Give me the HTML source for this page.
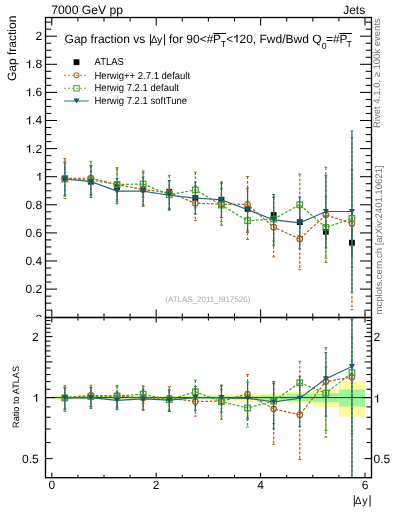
<!DOCTYPE html><html><head><meta charset="utf-8"><style>html,body{margin:0;padding:0;background:#fff;}svg{display:block;will-change:transform;}text{font-family:"Liberation Sans",sans-serif;text-rendering:geometricPrecision;}</style></head><body>
<svg width="393" height="512" viewBox="0 0 393 512">
<rect x="0" y="0" width="393" height="512" fill="#fff"/>
<defs><clipPath id="cu"><rect x="45.5" y="17.5" width="326.0" height="300.0"/></clipPath><clipPath id="cl"><rect x="45.5" y="317.5" width="326.0" height="160.2"/></clipPath><clipPath id="c0"><rect x="0" y="0" width="45" height="316.9"/></clipPath></defs>
<g clip-path="url(#cu)">
<line x1="64.85" y1="175.70" x2="64.85" y2="181.22" stroke="#000" stroke-width="1"/>
<rect x="61.95" y="175.56" width="5.8" height="5.8" fill="#000"/>
<line x1="90.95" y1="178.98" x2="90.95" y2="184.38" stroke="#000" stroke-width="1"/>
<rect x="88.05" y="178.78" width="5.8" height="5.8" fill="#000"/>
<line x1="117.05" y1="184.41" x2="117.05" y2="189.59" stroke="#000" stroke-width="1"/>
<rect x="114.15" y="184.10" width="5.8" height="5.8" fill="#000"/>
<line x1="143.15" y1="186.30" x2="143.15" y2="191.90" stroke="#000" stroke-width="1"/>
<rect x="140.25" y="186.20" width="5.8" height="5.8" fill="#000"/>
<line x1="169.25" y1="189.02" x2="169.25" y2="194.50" stroke="#000" stroke-width="1"/>
<rect x="166.35" y="188.86" width="5.8" height="5.8" fill="#000"/>
<line x1="195.35" y1="195.10" x2="195.35" y2="201.02" stroke="#000" stroke-width="1"/>
<rect x="192.45" y="195.16" width="5.8" height="5.8" fill="#000"/>
<line x1="221.45" y1="195.77" x2="221.45" y2="203.71" stroke="#000" stroke-width="1"/>
<rect x="218.55" y="196.84" width="5.8" height="5.8" fill="#000"/>
<line x1="247.55" y1="203.67" x2="247.55" y2="214.01" stroke="#000" stroke-width="1"/>
<rect x="244.65" y="205.94" width="5.8" height="5.8" fill="#000"/>
<line x1="273.65" y1="209.72" x2="273.65" y2="220.28" stroke="#000" stroke-width="1"/>
<rect x="270.75" y="212.10" width="5.8" height="5.8" fill="#000"/>
<line x1="299.75" y1="215.91" x2="299.75" y2="228.37" stroke="#000" stroke-width="1"/>
<rect x="296.85" y="219.24" width="5.8" height="5.8" fill="#000"/>
<line x1="325.85" y1="223.33" x2="325.85" y2="240.27" stroke="#000" stroke-width="1"/>
<rect x="322.95" y="228.90" width="5.8" height="5.8" fill="#000"/>
<line x1="351.95" y1="228.33" x2="351.95" y2="257.11" stroke="#000" stroke-width="1"/>
<rect x="349.05" y="239.82" width="5.8" height="5.8" fill="#000"/>
<line x1="64.85" y1="158.44" x2="64.85" y2="198.48" stroke="#ad5e18" stroke-width="1.2" stroke-dasharray="2.8,1.6"/>
<line x1="63.45" y1="158.44" x2="66.25" y2="158.44" stroke="#ad5e18" stroke-width="1"/>
<line x1="63.45" y1="198.48" x2="66.25" y2="198.48" stroke="#ad5e18" stroke-width="1"/>
<line x1="90.95" y1="161.38" x2="90.95" y2="194.98" stroke="#ad5e18" stroke-width="1.2" stroke-dasharray="2.8,1.6"/>
<line x1="89.55" y1="161.38" x2="92.35" y2="161.38" stroke="#ad5e18" stroke-width="1"/>
<line x1="89.55" y1="194.98" x2="92.35" y2="194.98" stroke="#ad5e18" stroke-width="1"/>
<line x1="117.05" y1="167.68" x2="117.05" y2="201.56" stroke="#ad5e18" stroke-width="1.2" stroke-dasharray="2.8,1.6"/>
<line x1="115.65" y1="167.68" x2="118.45" y2="167.68" stroke="#ad5e18" stroke-width="1"/>
<line x1="115.65" y1="201.56" x2="118.45" y2="201.56" stroke="#ad5e18" stroke-width="1"/>
<line x1="143.15" y1="172.72" x2="143.15" y2="206.32" stroke="#ad5e18" stroke-width="1.2" stroke-dasharray="2.8,1.6"/>
<line x1="141.75" y1="172.72" x2="144.55" y2="172.72" stroke="#ad5e18" stroke-width="1"/>
<line x1="141.75" y1="206.32" x2="144.55" y2="206.32" stroke="#ad5e18" stroke-width="1"/>
<line x1="169.25" y1="175.38" x2="169.25" y2="209.82" stroke="#ad5e18" stroke-width="1.2" stroke-dasharray="2.8,1.6"/>
<line x1="167.85" y1="175.38" x2="170.65" y2="175.38" stroke="#ad5e18" stroke-width="1"/>
<line x1="167.85" y1="209.82" x2="170.65" y2="209.82" stroke="#ad5e18" stroke-width="1"/>
<line x1="195.35" y1="185.88" x2="195.35" y2="220.60" stroke="#ad5e18" stroke-width="1.2" stroke-dasharray="2.8,1.6"/>
<line x1="193.95" y1="185.88" x2="196.75" y2="185.88" stroke="#ad5e18" stroke-width="1"/>
<line x1="193.95" y1="220.60" x2="196.75" y2="220.60" stroke="#ad5e18" stroke-width="1"/>
<line x1="221.45" y1="183.22" x2="221.45" y2="225.22" stroke="#ad5e18" stroke-width="1.2" stroke-dasharray="2.8,1.6"/>
<line x1="220.05" y1="183.22" x2="222.85" y2="183.22" stroke="#ad5e18" stroke-width="1"/>
<line x1="220.05" y1="225.22" x2="222.85" y2="225.22" stroke="#ad5e18" stroke-width="1"/>
<line x1="247.55" y1="176.50" x2="247.55" y2="232.50" stroke="#ad5e18" stroke-width="1.2" stroke-dasharray="2.8,1.6"/>
<line x1="246.15" y1="176.50" x2="248.95" y2="176.50" stroke="#ad5e18" stroke-width="1"/>
<line x1="246.15" y1="232.50" x2="248.95" y2="232.50" stroke="#ad5e18" stroke-width="1"/>
<line x1="273.65" y1="197.50" x2="273.65" y2="256.86" stroke="#ad5e18" stroke-width="1.2" stroke-dasharray="2.8,1.6"/>
<line x1="272.25" y1="197.50" x2="275.05" y2="197.50" stroke="#ad5e18" stroke-width="1"/>
<line x1="272.25" y1="256.86" x2="275.05" y2="256.86" stroke="#ad5e18" stroke-width="1"/>
<line x1="299.75" y1="208.14" x2="299.75" y2="269.74" stroke="#ad5e18" stroke-width="1.2" stroke-dasharray="2.8,1.6"/>
<line x1="298.35" y1="208.14" x2="301.15" y2="208.14" stroke="#ad5e18" stroke-width="1"/>
<line x1="298.35" y1="269.74" x2="301.15" y2="269.74" stroke="#ad5e18" stroke-width="1"/>
<line x1="325.85" y1="167.26" x2="325.85" y2="262.46" stroke="#ad5e18" stroke-width="1.2" stroke-dasharray="2.8,1.6"/>
<line x1="324.45" y1="167.26" x2="327.25" y2="167.26" stroke="#ad5e18" stroke-width="1"/>
<line x1="324.45" y1="262.46" x2="327.25" y2="262.46" stroke="#ad5e18" stroke-width="1"/>
<line x1="351.95" y1="137.44" x2="351.95" y2="309.64" stroke="#ad5e18" stroke-width="1.2" stroke-dasharray="2.8,1.6"/>
<line x1="350.55" y1="137.44" x2="353.35" y2="137.44" stroke="#ad5e18" stroke-width="1"/>
<line x1="350.55" y1="309.64" x2="353.35" y2="309.64" stroke="#ad5e18" stroke-width="1"/>
<path d="M64.85,178.46 L90.95,178.18 L117.05,184.62 L143.15,189.52 L169.25,192.60 L195.35,203.24 L221.45,204.22 L247.55,204.50 L273.65,227.18 L299.75,238.94 L325.85,214.86 L351.95,223.54" fill="none" stroke="#ad5e18" stroke-width="1.2" stroke-dasharray="2.8,1.6"/>
<circle cx="64.85" cy="178.46" r="2.75" fill="none" stroke="#ad5e18" stroke-width="1.2"/>
<circle cx="90.95" cy="178.18" r="2.75" fill="none" stroke="#ad5e18" stroke-width="1.2"/>
<circle cx="117.05" cy="184.62" r="2.75" fill="none" stroke="#ad5e18" stroke-width="1.2"/>
<circle cx="143.15" cy="189.52" r="2.75" fill="none" stroke="#ad5e18" stroke-width="1.2"/>
<circle cx="169.25" cy="192.60" r="2.75" fill="none" stroke="#ad5e18" stroke-width="1.2"/>
<circle cx="195.35" cy="203.24" r="2.75" fill="none" stroke="#ad5e18" stroke-width="1.2"/>
<circle cx="221.45" cy="204.22" r="2.75" fill="none" stroke="#ad5e18" stroke-width="1.2"/>
<circle cx="247.55" cy="204.50" r="2.75" fill="none" stroke="#ad5e18" stroke-width="1.2"/>
<circle cx="273.65" cy="227.18" r="2.75" fill="none" stroke="#ad5e18" stroke-width="1.2"/>
<circle cx="299.75" cy="238.94" r="2.75" fill="none" stroke="#ad5e18" stroke-width="1.2"/>
<circle cx="325.85" cy="214.86" r="2.75" fill="none" stroke="#ad5e18" stroke-width="1.2"/>
<circle cx="351.95" cy="223.54" r="2.75" fill="none" stroke="#ad5e18" stroke-width="1.2"/>
<line x1="64.85" y1="161.66" x2="64.85" y2="196.38" stroke="#44a026" stroke-width="1.2" stroke-dasharray="2.8,1.6"/>
<line x1="63.45" y1="161.66" x2="66.25" y2="161.66" stroke="#44a026" stroke-width="1"/>
<line x1="63.45" y1="196.38" x2="66.25" y2="196.38" stroke="#44a026" stroke-width="1"/>
<line x1="90.95" y1="165.16" x2="90.95" y2="194.84" stroke="#44a026" stroke-width="1.2" stroke-dasharray="2.8,1.6"/>
<line x1="89.55" y1="165.16" x2="92.35" y2="165.16" stroke="#44a026" stroke-width="1"/>
<line x1="89.55" y1="194.84" x2="92.35" y2="194.84" stroke="#44a026" stroke-width="1"/>
<line x1="117.05" y1="169.08" x2="117.05" y2="199.88" stroke="#44a026" stroke-width="1.2" stroke-dasharray="2.8,1.6"/>
<line x1="115.65" y1="169.08" x2="118.45" y2="169.08" stroke="#44a026" stroke-width="1"/>
<line x1="115.65" y1="199.88" x2="118.45" y2="199.88" stroke="#44a026" stroke-width="1"/>
<line x1="143.15" y1="170.90" x2="143.15" y2="197.22" stroke="#44a026" stroke-width="1.2" stroke-dasharray="2.8,1.6"/>
<line x1="141.75" y1="170.90" x2="144.55" y2="170.90" stroke="#44a026" stroke-width="1"/>
<line x1="141.75" y1="197.22" x2="144.55" y2="197.22" stroke="#44a026" stroke-width="1"/>
<line x1="169.25" y1="180.70" x2="169.25" y2="208.70" stroke="#44a026" stroke-width="1.2" stroke-dasharray="2.8,1.6"/>
<line x1="167.85" y1="180.70" x2="170.65" y2="180.70" stroke="#44a026" stroke-width="1"/>
<line x1="167.85" y1="208.70" x2="170.65" y2="208.70" stroke="#44a026" stroke-width="1"/>
<line x1="195.35" y1="172.16" x2="195.35" y2="207.72" stroke="#44a026" stroke-width="1.2" stroke-dasharray="2.8,1.6"/>
<line x1="193.95" y1="172.16" x2="196.75" y2="172.16" stroke="#44a026" stroke-width="1"/>
<line x1="193.95" y1="207.72" x2="196.75" y2="207.72" stroke="#44a026" stroke-width="1"/>
<line x1="221.45" y1="188.26" x2="221.45" y2="221.86" stroke="#44a026" stroke-width="1.2" stroke-dasharray="2.8,1.6"/>
<line x1="220.05" y1="188.26" x2="222.85" y2="188.26" stroke="#44a026" stroke-width="1"/>
<line x1="220.05" y1="221.86" x2="222.85" y2="221.86" stroke="#44a026" stroke-width="1"/>
<line x1="247.55" y1="201.98" x2="247.55" y2="239.50" stroke="#44a026" stroke-width="1.2" stroke-dasharray="2.8,1.6"/>
<line x1="246.15" y1="201.98" x2="248.95" y2="201.98" stroke="#44a026" stroke-width="1"/>
<line x1="246.15" y1="239.50" x2="248.95" y2="239.50" stroke="#44a026" stroke-width="1"/>
<line x1="273.65" y1="197.08" x2="273.65" y2="241.04" stroke="#44a026" stroke-width="1.2" stroke-dasharray="2.8,1.6"/>
<line x1="272.25" y1="197.08" x2="275.05" y2="197.08" stroke="#44a026" stroke-width="1"/>
<line x1="272.25" y1="241.04" x2="275.05" y2="241.04" stroke="#44a026" stroke-width="1"/>
<line x1="299.75" y1="173.98" x2="299.75" y2="235.58" stroke="#44a026" stroke-width="1.2" stroke-dasharray="2.8,1.6"/>
<line x1="298.35" y1="173.98" x2="301.15" y2="173.98" stroke="#44a026" stroke-width="1"/>
<line x1="298.35" y1="235.58" x2="301.15" y2="235.58" stroke="#44a026" stroke-width="1"/>
<line x1="325.85" y1="196.66" x2="325.85" y2="258.26" stroke="#44a026" stroke-width="1.2" stroke-dasharray="2.8,1.6"/>
<line x1="324.45" y1="196.66" x2="327.25" y2="196.66" stroke="#44a026" stroke-width="1"/>
<line x1="324.45" y1="258.26" x2="327.25" y2="258.26" stroke="#44a026" stroke-width="1"/>
<line x1="351.95" y1="169.50" x2="351.95" y2="267.50" stroke="#44a026" stroke-width="1.2" stroke-dasharray="2.8,1.6"/>
<line x1="350.55" y1="169.50" x2="353.35" y2="169.50" stroke="#44a026" stroke-width="1"/>
<line x1="350.55" y1="267.50" x2="353.35" y2="267.50" stroke="#44a026" stroke-width="1"/>
<path d="M64.85,179.02 L90.95,180.00 L117.05,184.48 L143.15,184.06 L169.25,194.70 L195.35,189.94 L221.45,205.06 L247.55,220.74 L273.65,219.06 L299.75,204.78 L325.85,227.46 L351.95,218.50" fill="none" stroke="#44a026" stroke-width="1.2" stroke-dasharray="2.8,1.6"/>
<rect x="62.05" y="176.22" width="5.6" height="5.6" fill="none" stroke="#44a026" stroke-width="1.2"/>
<rect x="88.15" y="177.20" width="5.6" height="5.6" fill="none" stroke="#44a026" stroke-width="1.2"/>
<rect x="114.25" y="181.68" width="5.6" height="5.6" fill="none" stroke="#44a026" stroke-width="1.2"/>
<rect x="140.35" y="181.26" width="5.6" height="5.6" fill="none" stroke="#44a026" stroke-width="1.2"/>
<rect x="166.45" y="191.90" width="5.6" height="5.6" fill="none" stroke="#44a026" stroke-width="1.2"/>
<rect x="192.55" y="187.14" width="5.6" height="5.6" fill="none" stroke="#44a026" stroke-width="1.2"/>
<rect x="218.65" y="202.26" width="5.6" height="5.6" fill="none" stroke="#44a026" stroke-width="1.2"/>
<rect x="244.75" y="217.94" width="5.6" height="5.6" fill="none" stroke="#44a026" stroke-width="1.2"/>
<rect x="270.85" y="216.26" width="5.6" height="5.6" fill="none" stroke="#44a026" stroke-width="1.2"/>
<rect x="296.95" y="201.98" width="5.6" height="5.6" fill="none" stroke="#44a026" stroke-width="1.2"/>
<rect x="323.05" y="224.66" width="5.6" height="5.6" fill="none" stroke="#44a026" stroke-width="1.2"/>
<rect x="349.15" y="215.70" width="5.6" height="5.6" fill="none" stroke="#44a026" stroke-width="1.2"/>
<line x1="64.85" y1="162.92" x2="64.85" y2="195.12" stroke="#266878" stroke-width="1.2"/>
<line x1="63.45" y1="162.92" x2="66.25" y2="162.92" stroke="#266878" stroke-width="1"/>
<line x1="63.45" y1="195.12" x2="66.25" y2="195.12" stroke="#266878" stroke-width="1"/>
<line x1="90.95" y1="165.86" x2="90.95" y2="197.50" stroke="#266878" stroke-width="1.2"/>
<line x1="89.55" y1="165.86" x2="92.35" y2="165.86" stroke="#266878" stroke-width="1"/>
<line x1="89.55" y1="197.50" x2="92.35" y2="197.50" stroke="#266878" stroke-width="1"/>
<line x1="117.05" y1="178.46" x2="117.05" y2="203.66" stroke="#266878" stroke-width="1.2"/>
<line x1="115.65" y1="178.46" x2="118.45" y2="178.46" stroke="#266878" stroke-width="1"/>
<line x1="115.65" y1="203.66" x2="118.45" y2="203.66" stroke="#266878" stroke-width="1"/>
<line x1="143.15" y1="177.06" x2="143.15" y2="205.06" stroke="#266878" stroke-width="1.2"/>
<line x1="141.75" y1="177.06" x2="144.55" y2="177.06" stroke="#266878" stroke-width="1"/>
<line x1="141.75" y1="205.06" x2="144.55" y2="205.06" stroke="#266878" stroke-width="1"/>
<line x1="169.25" y1="180.56" x2="169.25" y2="209.96" stroke="#266878" stroke-width="1.2"/>
<line x1="167.85" y1="180.56" x2="170.65" y2="180.56" stroke="#266878" stroke-width="1"/>
<line x1="167.85" y1="209.96" x2="170.65" y2="209.96" stroke="#266878" stroke-width="1"/>
<line x1="195.35" y1="182.10" x2="195.35" y2="214.02" stroke="#266878" stroke-width="1.2"/>
<line x1="193.95" y1="182.10" x2="196.75" y2="182.10" stroke="#266878" stroke-width="1"/>
<line x1="193.95" y1="214.02" x2="196.75" y2="214.02" stroke="#266878" stroke-width="1"/>
<line x1="221.45" y1="181.96" x2="221.45" y2="217.52" stroke="#266878" stroke-width="1.2"/>
<line x1="220.05" y1="181.96" x2="222.85" y2="181.96" stroke="#266878" stroke-width="1"/>
<line x1="220.05" y1="217.52" x2="222.85" y2="217.52" stroke="#266878" stroke-width="1"/>
<line x1="247.55" y1="188.26" x2="247.55" y2="231.10" stroke="#266878" stroke-width="1.2"/>
<line x1="246.15" y1="188.26" x2="248.95" y2="188.26" stroke="#266878" stroke-width="1"/>
<line x1="246.15" y1="231.10" x2="248.95" y2="231.10" stroke="#266878" stroke-width="1"/>
<line x1="273.65" y1="194.56" x2="273.65" y2="245.24" stroke="#266878" stroke-width="1.2"/>
<line x1="272.25" y1="194.56" x2="275.05" y2="194.56" stroke="#266878" stroke-width="1"/>
<line x1="272.25" y1="245.24" x2="275.05" y2="245.24" stroke="#266878" stroke-width="1"/>
<line x1="299.75" y1="196.94" x2="299.75" y2="248.74" stroke="#266878" stroke-width="1.2"/>
<line x1="298.35" y1="196.94" x2="301.15" y2="196.94" stroke="#266878" stroke-width="1"/>
<line x1="298.35" y1="248.74" x2="301.15" y2="248.74" stroke="#266878" stroke-width="1"/>
<line x1="325.85" y1="175.10" x2="325.85" y2="247.90" stroke="#266878" stroke-width="1.2"/>
<line x1="324.45" y1="175.10" x2="327.25" y2="175.10" stroke="#266878" stroke-width="1"/>
<line x1="324.45" y1="247.90" x2="327.25" y2="247.90" stroke="#266878" stroke-width="1"/>
<line x1="351.95" y1="131.00" x2="351.95" y2="292.00" stroke="#266878" stroke-width="1.2"/>
<line x1="350.55" y1="131.00" x2="353.35" y2="131.00" stroke="#266878" stroke-width="1"/>
<line x1="350.55" y1="292.00" x2="353.35" y2="292.00" stroke="#266878" stroke-width="1"/>
<path d="M64.85,179.02 L90.95,181.68 L117.05,191.06 L143.15,191.06 L169.25,195.26 L195.35,198.06 L221.45,199.74 L247.55,209.68 L273.65,219.90 L299.75,222.84 L325.85,211.50 L351.95,211.50" fill="none" stroke="#266878" stroke-width="1.2"/>
<path d="M61.85,176.52 L67.85,176.52 L64.85,181.62 Z" fill="#1a5565"/>
<path d="M87.95,179.18 L93.95,179.18 L90.95,184.28 Z" fill="#1a5565"/>
<path d="M114.05,188.56 L120.05,188.56 L117.05,193.66 Z" fill="#1a5565"/>
<path d="M140.15,188.56 L146.15,188.56 L143.15,193.66 Z" fill="#1a5565"/>
<path d="M166.25,192.76 L172.25,192.76 L169.25,197.86 Z" fill="#1a5565"/>
<path d="M192.35,195.56 L198.35,195.56 L195.35,200.66 Z" fill="#1a5565"/>
<path d="M218.45,197.24 L224.45,197.24 L221.45,202.34 Z" fill="#1a5565"/>
<path d="M244.55,207.18 L250.55,207.18 L247.55,212.28 Z" fill="#1a5565"/>
<path d="M270.65,217.40 L276.65,217.40 L273.65,222.50 Z" fill="#1a5565"/>
<path d="M296.75,220.34 L302.75,220.34 L299.75,225.44 Z" fill="#1a5565"/>
<path d="M322.85,209.00 L328.85,209.00 L325.85,214.10 Z" fill="#1a5565"/>
<path d="M348.95,209.00 L354.95,209.00 L351.95,214.10 Z" fill="#1a5565"/>
</g>
<g clip-path="url(#cl)">
<rect x="51.80" y="395.86" width="26.10" height="3.52" fill="#fffa9c"/>
<rect x="51.80" y="396.72" width="26.10" height="1.76" fill="#9cf59c"/>
<rect x="77.90" y="395.86" width="26.10" height="3.52" fill="#fffa9c"/>
<rect x="77.90" y="396.72" width="26.10" height="1.76" fill="#9cf59c"/>
<rect x="104.00" y="395.86" width="26.10" height="3.52" fill="#fffa9c"/>
<rect x="104.00" y="396.72" width="26.10" height="1.76" fill="#9cf59c"/>
<rect x="130.10" y="395.69" width="26.10" height="3.87" fill="#fffa9c"/>
<rect x="130.10" y="396.64" width="26.10" height="1.94" fill="#9cf59c"/>
<rect x="156.20" y="395.69" width="26.10" height="3.87" fill="#fffa9c"/>
<rect x="156.20" y="396.64" width="26.10" height="1.94" fill="#9cf59c"/>
<rect x="182.30" y="395.43" width="26.10" height="4.40" fill="#fffa9c"/>
<rect x="182.30" y="396.55" width="26.10" height="2.11" fill="#9cf59c"/>
<rect x="208.40" y="394.66" width="26.10" height="5.99" fill="#fffa9c"/>
<rect x="208.40" y="396.29" width="26.10" height="2.64" fill="#9cf59c"/>
<rect x="234.50" y="393.47" width="26.10" height="8.45" fill="#fffa9c"/>
<rect x="234.50" y="395.86" width="26.10" height="3.52" fill="#9cf59c"/>
<rect x="260.60" y="393.14" width="26.10" height="9.16" fill="#fffa9c"/>
<rect x="260.60" y="395.43" width="26.10" height="4.40" fill="#9cf59c"/>
<rect x="286.70" y="391.98" width="26.10" height="11.63" fill="#fffa9c"/>
<rect x="286.70" y="394.06" width="26.10" height="7.22" fill="#9cf59c"/>
<rect x="312.80" y="389.21" width="26.10" height="17.66" fill="#fffa9c"/>
<rect x="312.80" y="393.22" width="26.10" height="8.98" fill="#9cf59c"/>
<rect x="338.90" y="381.93" width="26.10" height="34.76" fill="#fffa9c"/>
<rect x="338.90" y="389.45" width="26.10" height="17.12" fill="#9cf59c"/>
<line x1="45.5" y1="397.60" x2="371.5" y2="397.60" stroke="#1c3c30" stroke-width="1"/>
<line x1="64.85" y1="385.68" x2="64.85" y2="411.39" stroke="#ad5e18" stroke-width="1.2" stroke-dasharray="2.8,1.6"/>
<line x1="63.45" y1="385.68" x2="66.25" y2="385.68" stroke="#ad5e18" stroke-width="1"/>
<line x1="63.45" y1="411.39" x2="66.25" y2="411.39" stroke="#ad5e18" stroke-width="1"/>
<line x1="90.95" y1="385.26" x2="90.95" y2="406.74" stroke="#ad5e18" stroke-width="1.2" stroke-dasharray="2.8,1.6"/>
<line x1="89.55" y1="385.26" x2="92.35" y2="385.26" stroke="#ad5e18" stroke-width="1"/>
<line x1="89.55" y1="406.74" x2="92.35" y2="406.74" stroke="#ad5e18" stroke-width="1"/>
<line x1="117.05" y1="385.36" x2="117.05" y2="408.09" stroke="#ad5e18" stroke-width="1.2" stroke-dasharray="2.8,1.6"/>
<line x1="115.65" y1="385.36" x2="118.45" y2="385.36" stroke="#ad5e18" stroke-width="1"/>
<line x1="115.65" y1="408.09" x2="118.45" y2="408.09" stroke="#ad5e18" stroke-width="1"/>
<line x1="143.15" y1="386.96" x2="143.15" y2="410.38" stroke="#ad5e18" stroke-width="1.2" stroke-dasharray="2.8,1.6"/>
<line x1="141.75" y1="386.96" x2="144.55" y2="386.96" stroke="#ad5e18" stroke-width="1"/>
<line x1="141.75" y1="410.38" x2="144.55" y2="410.38" stroke="#ad5e18" stroke-width="1"/>
<line x1="169.25" y1="386.74" x2="169.25" y2="411.36" stroke="#ad5e18" stroke-width="1.2" stroke-dasharray="2.8,1.6"/>
<line x1="167.85" y1="386.74" x2="170.65" y2="386.74" stroke="#ad5e18" stroke-width="1"/>
<line x1="167.85" y1="411.36" x2="170.65" y2="411.36" stroke="#ad5e18" stroke-width="1"/>
<line x1="195.35" y1="388.99" x2="195.35" y2="416.17" stroke="#ad5e18" stroke-width="1.2" stroke-dasharray="2.8,1.6"/>
<line x1="193.95" y1="388.99" x2="196.75" y2="388.99" stroke="#ad5e18" stroke-width="1"/>
<line x1="193.95" y1="416.17" x2="196.75" y2="416.17" stroke="#ad5e18" stroke-width="1"/>
<line x1="221.45" y1="385.96" x2="221.45" y2="419.26" stroke="#ad5e18" stroke-width="1.2" stroke-dasharray="2.8,1.6"/>
<line x1="220.05" y1="385.96" x2="222.85" y2="385.96" stroke="#ad5e18" stroke-width="1"/>
<line x1="220.05" y1="419.26" x2="222.85" y2="419.26" stroke="#ad5e18" stroke-width="1"/>
<line x1="247.55" y1="374.49" x2="247.55" y2="419.44" stroke="#ad5e18" stroke-width="1.2" stroke-dasharray="2.8,1.6"/>
<line x1="246.15" y1="374.49" x2="248.95" y2="374.49" stroke="#ad5e18" stroke-width="1"/>
<line x1="246.15" y1="419.44" x2="248.95" y2="419.44" stroke="#ad5e18" stroke-width="1"/>
<line x1="273.65" y1="383.60" x2="273.65" y2="444.39" stroke="#ad5e18" stroke-width="1.2" stroke-dasharray="2.8,1.6"/>
<line x1="272.25" y1="383.60" x2="275.05" y2="383.60" stroke="#ad5e18" stroke-width="1"/>
<line x1="272.25" y1="444.39" x2="275.05" y2="444.39" stroke="#ad5e18" stroke-width="1"/>
<line x1="299.75" y1="385.43" x2="299.75" y2="459.38" stroke="#ad5e18" stroke-width="1.2" stroke-dasharray="2.8,1.6"/>
<line x1="298.35" y1="385.43" x2="301.15" y2="385.43" stroke="#ad5e18" stroke-width="1"/>
<line x1="298.35" y1="459.38" x2="301.15" y2="459.38" stroke="#ad5e18" stroke-width="1"/>
<line x1="325.85" y1="347.76" x2="325.85" y2="437.14" stroke="#ad5e18" stroke-width="1.2" stroke-dasharray="2.8,1.6"/>
<line x1="324.45" y1="347.76" x2="327.25" y2="347.76" stroke="#ad5e18" stroke-width="1"/>
<line x1="324.45" y1="437.14" x2="327.25" y2="437.14" stroke="#ad5e18" stroke-width="1"/>
<line x1="351.95" y1="319.59" x2="351.95" y2="606.61" stroke="#ad5e18" stroke-width="1.2" stroke-dasharray="2.8,1.6"/>
<line x1="350.55" y1="319.59" x2="353.35" y2="319.59" stroke="#ad5e18" stroke-width="1"/>
<line x1="350.55" y1="606.61" x2="353.35" y2="606.61" stroke="#ad5e18" stroke-width="1"/>
<path d="M64.85,397.60 L90.95,395.34 L117.05,396.00 L143.15,397.89 L169.25,398.19 L195.35,401.53 L221.45,401.04 L247.55,394.12 L273.65,408.85 L299.75,414.85 L325.85,381.56 L351.95,377.27" fill="none" stroke="#ad5e18" stroke-width="1.2" stroke-dasharray="2.8,1.6"/>
<circle cx="64.85" cy="397.60" r="2.75" fill="none" stroke="#ad5e18" stroke-width="1.2"/>
<circle cx="90.95" cy="395.34" r="2.75" fill="none" stroke="#ad5e18" stroke-width="1.2"/>
<circle cx="117.05" cy="396.00" r="2.75" fill="none" stroke="#ad5e18" stroke-width="1.2"/>
<circle cx="143.15" cy="397.89" r="2.75" fill="none" stroke="#ad5e18" stroke-width="1.2"/>
<circle cx="169.25" cy="398.19" r="2.75" fill="none" stroke="#ad5e18" stroke-width="1.2"/>
<circle cx="195.35" cy="401.53" r="2.75" fill="none" stroke="#ad5e18" stroke-width="1.2"/>
<circle cx="221.45" cy="401.04" r="2.75" fill="none" stroke="#ad5e18" stroke-width="1.2"/>
<circle cx="247.55" cy="394.12" r="2.75" fill="none" stroke="#ad5e18" stroke-width="1.2"/>
<circle cx="273.65" cy="408.85" r="2.75" fill="none" stroke="#ad5e18" stroke-width="1.2"/>
<circle cx="299.75" cy="414.85" r="2.75" fill="none" stroke="#ad5e18" stroke-width="1.2"/>
<circle cx="325.85" cy="381.56" r="2.75" fill="none" stroke="#ad5e18" stroke-width="1.2"/>
<circle cx="351.95" cy="377.27" r="2.75" fill="none" stroke="#ad5e18" stroke-width="1.2"/>
<line x1="64.85" y1="387.49" x2="64.85" y2="409.83" stroke="#44a026" stroke-width="1.2" stroke-dasharray="2.8,1.6"/>
<line x1="63.45" y1="387.49" x2="66.25" y2="387.49" stroke="#44a026" stroke-width="1"/>
<line x1="63.45" y1="409.83" x2="66.25" y2="409.83" stroke="#44a026" stroke-width="1"/>
<line x1="90.95" y1="387.43" x2="90.95" y2="406.64" stroke="#44a026" stroke-width="1.2" stroke-dasharray="2.8,1.6"/>
<line x1="89.55" y1="387.43" x2="92.35" y2="387.43" stroke="#44a026" stroke-width="1"/>
<line x1="89.55" y1="406.64" x2="92.35" y2="406.64" stroke="#44a026" stroke-width="1"/>
<line x1="117.05" y1="386.20" x2="117.05" y2="406.82" stroke="#44a026" stroke-width="1.2" stroke-dasharray="2.8,1.6"/>
<line x1="115.65" y1="386.20" x2="118.45" y2="386.20" stroke="#44a026" stroke-width="1"/>
<line x1="115.65" y1="406.82" x2="118.45" y2="406.82" stroke="#44a026" stroke-width="1"/>
<line x1="143.15" y1="385.85" x2="143.15" y2="403.39" stroke="#44a026" stroke-width="1.2" stroke-dasharray="2.8,1.6"/>
<line x1="141.75" y1="385.85" x2="144.55" y2="385.85" stroke="#44a026" stroke-width="1"/>
<line x1="141.75" y1="403.39" x2="144.55" y2="403.39" stroke="#44a026" stroke-width="1"/>
<line x1="169.25" y1="390.13" x2="169.25" y2="410.44" stroke="#44a026" stroke-width="1.2" stroke-dasharray="2.8,1.6"/>
<line x1="167.85" y1="390.13" x2="170.65" y2="390.13" stroke="#44a026" stroke-width="1"/>
<line x1="167.85" y1="410.44" x2="170.65" y2="410.44" stroke="#44a026" stroke-width="1"/>
<line x1="195.35" y1="380.20" x2="195.35" y2="405.09" stroke="#44a026" stroke-width="1.2" stroke-dasharray="2.8,1.6"/>
<line x1="193.95" y1="380.20" x2="196.75" y2="380.20" stroke="#44a026" stroke-width="1"/>
<line x1="193.95" y1="405.09" x2="196.75" y2="405.09" stroke="#44a026" stroke-width="1"/>
<line x1="221.45" y1="389.35" x2="221.45" y2="416.08" stroke="#44a026" stroke-width="1.2" stroke-dasharray="2.8,1.6"/>
<line x1="220.05" y1="389.35" x2="222.85" y2="389.35" stroke="#44a026" stroke-width="1"/>
<line x1="220.05" y1="416.08" x2="222.85" y2="416.08" stroke="#44a026" stroke-width="1"/>
<line x1="247.55" y1="392.16" x2="247.55" y2="427.09" stroke="#44a026" stroke-width="1.2" stroke-dasharray="2.8,1.6"/>
<line x1="246.15" y1="392.16" x2="248.95" y2="392.16" stroke="#44a026" stroke-width="1"/>
<line x1="246.15" y1="427.09" x2="248.95" y2="427.09" stroke="#44a026" stroke-width="1"/>
<line x1="273.65" y1="383.29" x2="273.65" y2="423.68" stroke="#44a026" stroke-width="1.2" stroke-dasharray="2.8,1.6"/>
<line x1="272.25" y1="383.29" x2="275.05" y2="383.29" stroke="#44a026" stroke-width="1"/>
<line x1="272.25" y1="423.68" x2="275.05" y2="423.68" stroke="#44a026" stroke-width="1"/>
<line x1="299.75" y1="361.32" x2="299.75" y2="411.12" stroke="#44a026" stroke-width="1.2" stroke-dasharray="2.8,1.6"/>
<line x1="298.35" y1="361.32" x2="301.15" y2="361.32" stroke="#44a026" stroke-width="1"/>
<line x1="298.35" y1="411.12" x2="301.15" y2="411.12" stroke="#44a026" stroke-width="1"/>
<line x1="325.85" y1="367.06" x2="325.85" y2="430.56" stroke="#44a026" stroke-width="1.2" stroke-dasharray="2.8,1.6"/>
<line x1="324.45" y1="367.06" x2="327.25" y2="367.06" stroke="#44a026" stroke-width="1"/>
<line x1="324.45" y1="430.56" x2="327.25" y2="430.56" stroke="#44a026" stroke-width="1"/>
<line x1="351.95" y1="336.95" x2="351.95" y2="433.61" stroke="#44a026" stroke-width="1.2" stroke-dasharray="2.8,1.6"/>
<line x1="350.55" y1="336.95" x2="353.35" y2="336.95" stroke="#44a026" stroke-width="1"/>
<line x1="350.55" y1="433.61" x2="353.35" y2="433.61" stroke="#44a026" stroke-width="1"/>
<path d="M64.85,397.96 L90.95,396.51 L117.05,395.90 L143.15,394.19 L169.25,399.70 L195.35,391.77 L221.45,401.70 L247.55,407.91 L273.65,401.19 L299.75,382.74 L325.85,393.20 L351.95,372.62" fill="none" stroke="#44a026" stroke-width="1.2" stroke-dasharray="2.8,1.6"/>
<rect x="62.05" y="395.16" width="5.6" height="5.6" fill="none" stroke="#44a026" stroke-width="1.2"/>
<rect x="88.15" y="393.71" width="5.6" height="5.6" fill="none" stroke="#44a026" stroke-width="1.2"/>
<rect x="114.25" y="393.10" width="5.6" height="5.6" fill="none" stroke="#44a026" stroke-width="1.2"/>
<rect x="140.35" y="391.39" width="5.6" height="5.6" fill="none" stroke="#44a026" stroke-width="1.2"/>
<rect x="166.45" y="396.90" width="5.6" height="5.6" fill="none" stroke="#44a026" stroke-width="1.2"/>
<rect x="192.55" y="388.97" width="5.6" height="5.6" fill="none" stroke="#44a026" stroke-width="1.2"/>
<rect x="218.65" y="398.90" width="5.6" height="5.6" fill="none" stroke="#44a026" stroke-width="1.2"/>
<rect x="244.75" y="405.11" width="5.6" height="5.6" fill="none" stroke="#44a026" stroke-width="1.2"/>
<rect x="270.85" y="398.39" width="5.6" height="5.6" fill="none" stroke="#44a026" stroke-width="1.2"/>
<rect x="296.95" y="379.94" width="5.6" height="5.6" fill="none" stroke="#44a026" stroke-width="1.2"/>
<rect x="323.05" y="390.40" width="5.6" height="5.6" fill="none" stroke="#44a026" stroke-width="1.2"/>
<rect x="349.15" y="369.82" width="5.6" height="5.6" fill="none" stroke="#44a026" stroke-width="1.2"/>
<line x1="64.85" y1="388.21" x2="64.85" y2="408.92" stroke="#266878" stroke-width="1.2"/>
<line x1="63.45" y1="388.21" x2="66.25" y2="388.21" stroke="#266878" stroke-width="1"/>
<line x1="63.45" y1="408.92" x2="66.25" y2="408.92" stroke="#266878" stroke-width="1"/>
<line x1="90.95" y1="387.84" x2="90.95" y2="408.58" stroke="#266878" stroke-width="1.2"/>
<line x1="89.55" y1="387.84" x2="92.35" y2="387.84" stroke="#266878" stroke-width="1"/>
<line x1="89.55" y1="408.58" x2="92.35" y2="408.58" stroke="#266878" stroke-width="1"/>
<line x1="117.05" y1="391.98" x2="117.05" y2="409.72" stroke="#266878" stroke-width="1.2"/>
<line x1="115.65" y1="391.98" x2="118.45" y2="391.98" stroke="#266878" stroke-width="1"/>
<line x1="115.65" y1="409.72" x2="118.45" y2="409.72" stroke="#266878" stroke-width="1"/>
<line x1="143.15" y1="389.65" x2="143.15" y2="409.38" stroke="#266878" stroke-width="1.2"/>
<line x1="141.75" y1="389.65" x2="144.55" y2="389.65" stroke="#266878" stroke-width="1"/>
<line x1="141.75" y1="409.38" x2="144.55" y2="409.38" stroke="#266878" stroke-width="1"/>
<line x1="169.25" y1="390.03" x2="169.25" y2="411.48" stroke="#266878" stroke-width="1.2"/>
<line x1="167.85" y1="390.03" x2="170.65" y2="390.03" stroke="#266878" stroke-width="1"/>
<line x1="167.85" y1="411.48" x2="170.65" y2="411.48" stroke="#266878" stroke-width="1"/>
<line x1="195.35" y1="386.48" x2="195.35" y2="410.34" stroke="#266878" stroke-width="1.2"/>
<line x1="193.95" y1="386.48" x2="196.75" y2="386.48" stroke="#266878" stroke-width="1"/>
<line x1="193.95" y1="410.34" x2="196.75" y2="410.34" stroke="#266878" stroke-width="1"/>
<line x1="221.45" y1="385.13" x2="221.45" y2="412.14" stroke="#266878" stroke-width="1.2"/>
<line x1="220.05" y1="385.13" x2="222.85" y2="385.13" stroke="#266878" stroke-width="1"/>
<line x1="220.05" y1="412.14" x2="222.85" y2="412.14" stroke="#266878" stroke-width="1"/>
<line x1="247.55" y1="382.21" x2="247.55" y2="417.98" stroke="#266878" stroke-width="1.2"/>
<line x1="246.15" y1="382.21" x2="248.95" y2="382.21" stroke="#266878" stroke-width="1"/>
<line x1="246.15" y1="417.98" x2="248.95" y2="417.98" stroke="#266878" stroke-width="1"/>
<line x1="273.65" y1="381.46" x2="273.65" y2="428.72" stroke="#266878" stroke-width="1.2"/>
<line x1="272.25" y1="381.46" x2="275.05" y2="381.46" stroke="#266878" stroke-width="1"/>
<line x1="272.25" y1="428.72" x2="275.05" y2="428.72" stroke="#266878" stroke-width="1"/>
<line x1="299.75" y1="376.77" x2="299.75" y2="426.74" stroke="#266878" stroke-width="1.2"/>
<line x1="298.35" y1="376.77" x2="301.15" y2="376.77" stroke="#266878" stroke-width="1"/>
<line x1="298.35" y1="426.74" x2="301.15" y2="426.74" stroke="#266878" stroke-width="1"/>
<line x1="325.85" y1="352.51" x2="325.85" y2="416.15" stroke="#266878" stroke-width="1.2"/>
<line x1="324.45" y1="352.51" x2="327.25" y2="352.51" stroke="#266878" stroke-width="1"/>
<line x1="324.45" y1="416.15" x2="327.25" y2="416.15" stroke="#266878" stroke-width="1"/>
<line x1="351.95" y1="316.48" x2="351.95" y2="494.60" stroke="#266878" stroke-width="1.2"/>
<line x1="350.55" y1="316.48" x2="353.35" y2="316.48" stroke="#266878" stroke-width="1"/>
<line x1="350.55" y1="494.60" x2="353.35" y2="494.60" stroke="#266878" stroke-width="1"/>
<path d="M64.85,397.96 L90.95,397.60 L117.05,400.40 L143.15,398.96 L169.25,400.10 L195.35,397.60 L221.45,397.60 L247.55,398.29 L273.65,401.95 L299.75,398.26 L325.85,378.70 L351.95,366.55" fill="none" stroke="#266878" stroke-width="1.2"/>
<path d="M61.85,395.46 L67.85,395.46 L64.85,400.56 Z" fill="#1a5565"/>
<path d="M87.95,395.10 L93.95,395.10 L90.95,400.20 Z" fill="#1a5565"/>
<path d="M114.05,397.90 L120.05,397.90 L117.05,403.00 Z" fill="#1a5565"/>
<path d="M140.15,396.46 L146.15,396.46 L143.15,401.56 Z" fill="#1a5565"/>
<path d="M166.25,397.60 L172.25,397.60 L169.25,402.70 Z" fill="#1a5565"/>
<path d="M192.35,395.10 L198.35,395.10 L195.35,400.20 Z" fill="#1a5565"/>
<path d="M218.45,395.10 L224.45,395.10 L221.45,400.20 Z" fill="#1a5565"/>
<path d="M244.55,395.79 L250.55,395.79 L247.55,400.89 Z" fill="#1a5565"/>
<path d="M270.65,399.45 L276.65,399.45 L273.65,404.55 Z" fill="#1a5565"/>
<path d="M296.75,395.76 L302.75,395.76 L299.75,400.86 Z" fill="#1a5565"/>
<path d="M322.85,376.20 L328.85,376.20 L325.85,381.30 Z" fill="#1a5565"/>
<path d="M348.95,364.05 L354.95,364.05 L351.95,369.15 Z" fill="#1a5565"/>
</g>
<line x1="45.50" y1="310.18" x2="51.30" y2="310.18" stroke="#000" stroke-width="1.05"/>
<line x1="365.70" y1="310.18" x2="371.50" y2="310.18" stroke="#000" stroke-width="1.05"/>
<line x1="45.50" y1="303.15" x2="51.30" y2="303.15" stroke="#000" stroke-width="1.05"/>
<line x1="365.70" y1="303.15" x2="371.50" y2="303.15" stroke="#000" stroke-width="1.05"/>
<line x1="45.50" y1="296.12" x2="51.30" y2="296.12" stroke="#000" stroke-width="1.05"/>
<line x1="365.70" y1="296.12" x2="371.50" y2="296.12" stroke="#000" stroke-width="1.05"/>
<line x1="45.50" y1="289.10" x2="57.00" y2="289.10" stroke="#000" stroke-width="1.05"/>
<line x1="360.00" y1="289.10" x2="371.50" y2="289.10" stroke="#000" stroke-width="1.05"/>
<line x1="45.50" y1="282.07" x2="51.30" y2="282.07" stroke="#000" stroke-width="1.05"/>
<line x1="365.70" y1="282.07" x2="371.50" y2="282.07" stroke="#000" stroke-width="1.05"/>
<line x1="45.50" y1="275.05" x2="51.30" y2="275.05" stroke="#000" stroke-width="1.05"/>
<line x1="365.70" y1="275.05" x2="371.50" y2="275.05" stroke="#000" stroke-width="1.05"/>
<line x1="45.50" y1="268.02" x2="51.30" y2="268.02" stroke="#000" stroke-width="1.05"/>
<line x1="365.70" y1="268.02" x2="371.50" y2="268.02" stroke="#000" stroke-width="1.05"/>
<line x1="45.50" y1="261.00" x2="57.00" y2="261.00" stroke="#000" stroke-width="1.05"/>
<line x1="360.00" y1="261.00" x2="371.50" y2="261.00" stroke="#000" stroke-width="1.05"/>
<line x1="45.50" y1="253.97" x2="51.30" y2="253.97" stroke="#000" stroke-width="1.05"/>
<line x1="365.70" y1="253.97" x2="371.50" y2="253.97" stroke="#000" stroke-width="1.05"/>
<line x1="45.50" y1="246.95" x2="51.30" y2="246.95" stroke="#000" stroke-width="1.05"/>
<line x1="365.70" y1="246.95" x2="371.50" y2="246.95" stroke="#000" stroke-width="1.05"/>
<line x1="45.50" y1="239.92" x2="51.30" y2="239.92" stroke="#000" stroke-width="1.05"/>
<line x1="365.70" y1="239.92" x2="371.50" y2="239.92" stroke="#000" stroke-width="1.05"/>
<line x1="45.50" y1="232.90" x2="57.00" y2="232.90" stroke="#000" stroke-width="1.05"/>
<line x1="360.00" y1="232.90" x2="371.50" y2="232.90" stroke="#000" stroke-width="1.05"/>
<line x1="45.50" y1="225.88" x2="51.30" y2="225.88" stroke="#000" stroke-width="1.05"/>
<line x1="365.70" y1="225.88" x2="371.50" y2="225.88" stroke="#000" stroke-width="1.05"/>
<line x1="45.50" y1="218.85" x2="51.30" y2="218.85" stroke="#000" stroke-width="1.05"/>
<line x1="365.70" y1="218.85" x2="371.50" y2="218.85" stroke="#000" stroke-width="1.05"/>
<line x1="45.50" y1="211.82" x2="51.30" y2="211.82" stroke="#000" stroke-width="1.05"/>
<line x1="365.70" y1="211.82" x2="371.50" y2="211.82" stroke="#000" stroke-width="1.05"/>
<line x1="45.50" y1="204.80" x2="57.00" y2="204.80" stroke="#000" stroke-width="1.05"/>
<line x1="360.00" y1="204.80" x2="371.50" y2="204.80" stroke="#000" stroke-width="1.05"/>
<line x1="45.50" y1="197.77" x2="51.30" y2="197.77" stroke="#000" stroke-width="1.05"/>
<line x1="365.70" y1="197.77" x2="371.50" y2="197.77" stroke="#000" stroke-width="1.05"/>
<line x1="45.50" y1="190.75" x2="51.30" y2="190.75" stroke="#000" stroke-width="1.05"/>
<line x1="365.70" y1="190.75" x2="371.50" y2="190.75" stroke="#000" stroke-width="1.05"/>
<line x1="45.50" y1="183.72" x2="51.30" y2="183.72" stroke="#000" stroke-width="1.05"/>
<line x1="365.70" y1="183.72" x2="371.50" y2="183.72" stroke="#000" stroke-width="1.05"/>
<line x1="45.50" y1="176.70" x2="57.00" y2="176.70" stroke="#000" stroke-width="1.05"/>
<line x1="360.00" y1="176.70" x2="371.50" y2="176.70" stroke="#000" stroke-width="1.05"/>
<line x1="45.50" y1="169.67" x2="51.30" y2="169.67" stroke="#000" stroke-width="1.05"/>
<line x1="365.70" y1="169.67" x2="371.50" y2="169.67" stroke="#000" stroke-width="1.05"/>
<line x1="45.50" y1="162.65" x2="51.30" y2="162.65" stroke="#000" stroke-width="1.05"/>
<line x1="365.70" y1="162.65" x2="371.50" y2="162.65" stroke="#000" stroke-width="1.05"/>
<line x1="45.50" y1="155.62" x2="51.30" y2="155.62" stroke="#000" stroke-width="1.05"/>
<line x1="365.70" y1="155.62" x2="371.50" y2="155.62" stroke="#000" stroke-width="1.05"/>
<line x1="45.50" y1="148.60" x2="57.00" y2="148.60" stroke="#000" stroke-width="1.05"/>
<line x1="360.00" y1="148.60" x2="371.50" y2="148.60" stroke="#000" stroke-width="1.05"/>
<line x1="45.50" y1="141.57" x2="51.30" y2="141.57" stroke="#000" stroke-width="1.05"/>
<line x1="365.70" y1="141.57" x2="371.50" y2="141.57" stroke="#000" stroke-width="1.05"/>
<line x1="45.50" y1="134.55" x2="51.30" y2="134.55" stroke="#000" stroke-width="1.05"/>
<line x1="365.70" y1="134.55" x2="371.50" y2="134.55" stroke="#000" stroke-width="1.05"/>
<line x1="45.50" y1="127.52" x2="51.30" y2="127.52" stroke="#000" stroke-width="1.05"/>
<line x1="365.70" y1="127.52" x2="371.50" y2="127.52" stroke="#000" stroke-width="1.05"/>
<line x1="45.50" y1="120.50" x2="57.00" y2="120.50" stroke="#000" stroke-width="1.05"/>
<line x1="360.00" y1="120.50" x2="371.50" y2="120.50" stroke="#000" stroke-width="1.05"/>
<line x1="45.50" y1="113.47" x2="51.30" y2="113.47" stroke="#000" stroke-width="1.05"/>
<line x1="365.70" y1="113.47" x2="371.50" y2="113.47" stroke="#000" stroke-width="1.05"/>
<line x1="45.50" y1="106.45" x2="51.30" y2="106.45" stroke="#000" stroke-width="1.05"/>
<line x1="365.70" y1="106.45" x2="371.50" y2="106.45" stroke="#000" stroke-width="1.05"/>
<line x1="45.50" y1="99.42" x2="51.30" y2="99.42" stroke="#000" stroke-width="1.05"/>
<line x1="365.70" y1="99.42" x2="371.50" y2="99.42" stroke="#000" stroke-width="1.05"/>
<line x1="45.50" y1="92.40" x2="57.00" y2="92.40" stroke="#000" stroke-width="1.05"/>
<line x1="360.00" y1="92.40" x2="371.50" y2="92.40" stroke="#000" stroke-width="1.05"/>
<line x1="45.50" y1="85.37" x2="51.30" y2="85.37" stroke="#000" stroke-width="1.05"/>
<line x1="365.70" y1="85.37" x2="371.50" y2="85.37" stroke="#000" stroke-width="1.05"/>
<line x1="45.50" y1="78.35" x2="51.30" y2="78.35" stroke="#000" stroke-width="1.05"/>
<line x1="365.70" y1="78.35" x2="371.50" y2="78.35" stroke="#000" stroke-width="1.05"/>
<line x1="45.50" y1="71.32" x2="51.30" y2="71.32" stroke="#000" stroke-width="1.05"/>
<line x1="365.70" y1="71.32" x2="371.50" y2="71.32" stroke="#000" stroke-width="1.05"/>
<line x1="45.50" y1="64.30" x2="57.00" y2="64.30" stroke="#000" stroke-width="1.05"/>
<line x1="360.00" y1="64.30" x2="371.50" y2="64.30" stroke="#000" stroke-width="1.05"/>
<line x1="45.50" y1="57.27" x2="51.30" y2="57.27" stroke="#000" stroke-width="1.05"/>
<line x1="365.70" y1="57.27" x2="371.50" y2="57.27" stroke="#000" stroke-width="1.05"/>
<line x1="45.50" y1="50.25" x2="51.30" y2="50.25" stroke="#000" stroke-width="1.05"/>
<line x1="365.70" y1="50.25" x2="371.50" y2="50.25" stroke="#000" stroke-width="1.05"/>
<line x1="45.50" y1="43.22" x2="51.30" y2="43.22" stroke="#000" stroke-width="1.05"/>
<line x1="365.70" y1="43.22" x2="371.50" y2="43.22" stroke="#000" stroke-width="1.05"/>
<line x1="45.50" y1="36.20" x2="57.00" y2="36.20" stroke="#000" stroke-width="1.05"/>
<line x1="360.00" y1="36.20" x2="371.50" y2="36.20" stroke="#000" stroke-width="1.05"/>
<line x1="45.50" y1="29.17" x2="51.30" y2="29.17" stroke="#000" stroke-width="1.05"/>
<line x1="365.70" y1="29.17" x2="371.50" y2="29.17" stroke="#000" stroke-width="1.05"/>
<line x1="45.50" y1="22.15" x2="51.30" y2="22.15" stroke="#000" stroke-width="1.05"/>
<line x1="365.70" y1="22.15" x2="371.50" y2="22.15" stroke="#000" stroke-width="1.05"/>
<line x1="51.80" y1="17.50" x2="51.80" y2="25.50" stroke="#000" stroke-width="1.05"/>
<line x1="51.80" y1="309.50" x2="51.80" y2="317.50" stroke="#000" stroke-width="1.05"/>
<line x1="77.90" y1="17.50" x2="77.90" y2="21.50" stroke="#000" stroke-width="1.05"/>
<line x1="77.90" y1="313.50" x2="77.90" y2="317.50" stroke="#000" stroke-width="1.05"/>
<line x1="104.00" y1="17.50" x2="104.00" y2="21.50" stroke="#000" stroke-width="1.05"/>
<line x1="104.00" y1="313.50" x2="104.00" y2="317.50" stroke="#000" stroke-width="1.05"/>
<line x1="130.10" y1="17.50" x2="130.10" y2="21.50" stroke="#000" stroke-width="1.05"/>
<line x1="130.10" y1="313.50" x2="130.10" y2="317.50" stroke="#000" stroke-width="1.05"/>
<line x1="156.20" y1="17.50" x2="156.20" y2="25.50" stroke="#000" stroke-width="1.05"/>
<line x1="156.20" y1="309.50" x2="156.20" y2="317.50" stroke="#000" stroke-width="1.05"/>
<line x1="182.30" y1="17.50" x2="182.30" y2="21.50" stroke="#000" stroke-width="1.05"/>
<line x1="182.30" y1="313.50" x2="182.30" y2="317.50" stroke="#000" stroke-width="1.05"/>
<line x1="208.40" y1="17.50" x2="208.40" y2="21.50" stroke="#000" stroke-width="1.05"/>
<line x1="208.40" y1="313.50" x2="208.40" y2="317.50" stroke="#000" stroke-width="1.05"/>
<line x1="234.50" y1="17.50" x2="234.50" y2="21.50" stroke="#000" stroke-width="1.05"/>
<line x1="234.50" y1="313.50" x2="234.50" y2="317.50" stroke="#000" stroke-width="1.05"/>
<line x1="260.60" y1="17.50" x2="260.60" y2="25.50" stroke="#000" stroke-width="1.05"/>
<line x1="260.60" y1="309.50" x2="260.60" y2="317.50" stroke="#000" stroke-width="1.05"/>
<line x1="286.70" y1="17.50" x2="286.70" y2="21.50" stroke="#000" stroke-width="1.05"/>
<line x1="286.70" y1="313.50" x2="286.70" y2="317.50" stroke="#000" stroke-width="1.05"/>
<line x1="312.80" y1="17.50" x2="312.80" y2="21.50" stroke="#000" stroke-width="1.05"/>
<line x1="312.80" y1="313.50" x2="312.80" y2="317.50" stroke="#000" stroke-width="1.05"/>
<line x1="338.90" y1="17.50" x2="338.90" y2="21.50" stroke="#000" stroke-width="1.05"/>
<line x1="338.90" y1="313.50" x2="338.90" y2="317.50" stroke="#000" stroke-width="1.05"/>
<line x1="365.00" y1="17.50" x2="365.00" y2="25.50" stroke="#000" stroke-width="1.05"/>
<line x1="365.00" y1="309.50" x2="365.00" y2="317.50" stroke="#000" stroke-width="1.05"/>
<line x1="45.50" y1="458.59" x2="52.50" y2="458.59" stroke="#000" stroke-width="1.05"/>
<line x1="364.50" y1="458.59" x2="371.50" y2="458.59" stroke="#000" stroke-width="1.05"/>
<line x1="45.50" y1="442.55" x2="50.50" y2="442.55" stroke="#000" stroke-width="1.05"/>
<line x1="366.50" y1="442.55" x2="371.50" y2="442.55" stroke="#000" stroke-width="1.05"/>
<line x1="45.50" y1="428.98" x2="50.50" y2="428.98" stroke="#000" stroke-width="1.05"/>
<line x1="366.50" y1="428.98" x2="371.50" y2="428.98" stroke="#000" stroke-width="1.05"/>
<line x1="45.50" y1="417.23" x2="50.50" y2="417.23" stroke="#000" stroke-width="1.05"/>
<line x1="366.50" y1="417.23" x2="371.50" y2="417.23" stroke="#000" stroke-width="1.05"/>
<line x1="45.50" y1="406.87" x2="50.50" y2="406.87" stroke="#000" stroke-width="1.05"/>
<line x1="366.50" y1="406.87" x2="371.50" y2="406.87" stroke="#000" stroke-width="1.05"/>
<line x1="45.50" y1="397.60" x2="55.00" y2="397.60" stroke="#000" stroke-width="1.05"/>
<line x1="362.00" y1="397.60" x2="371.50" y2="397.60" stroke="#000" stroke-width="1.05"/>
<line x1="45.50" y1="389.21" x2="50.50" y2="389.21" stroke="#000" stroke-width="1.05"/>
<line x1="366.50" y1="389.21" x2="371.50" y2="389.21" stroke="#000" stroke-width="1.05"/>
<line x1="45.50" y1="381.56" x2="50.50" y2="381.56" stroke="#000" stroke-width="1.05"/>
<line x1="366.50" y1="381.56" x2="371.50" y2="381.56" stroke="#000" stroke-width="1.05"/>
<line x1="45.50" y1="374.52" x2="50.50" y2="374.52" stroke="#000" stroke-width="1.05"/>
<line x1="366.50" y1="374.52" x2="371.50" y2="374.52" stroke="#000" stroke-width="1.05"/>
<line x1="45.50" y1="367.99" x2="50.50" y2="367.99" stroke="#000" stroke-width="1.05"/>
<line x1="366.50" y1="367.99" x2="371.50" y2="367.99" stroke="#000" stroke-width="1.05"/>
<line x1="45.50" y1="361.92" x2="52.50" y2="361.92" stroke="#000" stroke-width="1.05"/>
<line x1="364.50" y1="361.92" x2="371.50" y2="361.92" stroke="#000" stroke-width="1.05"/>
<line x1="45.50" y1="356.25" x2="50.50" y2="356.25" stroke="#000" stroke-width="1.05"/>
<line x1="366.50" y1="356.25" x2="371.50" y2="356.25" stroke="#000" stroke-width="1.05"/>
<line x1="45.50" y1="350.91" x2="50.50" y2="350.91" stroke="#000" stroke-width="1.05"/>
<line x1="366.50" y1="350.91" x2="371.50" y2="350.91" stroke="#000" stroke-width="1.05"/>
<line x1="45.50" y1="345.88" x2="50.50" y2="345.88" stroke="#000" stroke-width="1.05"/>
<line x1="366.50" y1="345.88" x2="371.50" y2="345.88" stroke="#000" stroke-width="1.05"/>
<line x1="45.50" y1="341.12" x2="50.50" y2="341.12" stroke="#000" stroke-width="1.05"/>
<line x1="366.50" y1="341.12" x2="371.50" y2="341.12" stroke="#000" stroke-width="1.05"/>
<line x1="45.50" y1="336.61" x2="52.50" y2="336.61" stroke="#000" stroke-width="1.05"/>
<line x1="364.50" y1="336.61" x2="371.50" y2="336.61" stroke="#000" stroke-width="1.05"/>
<line x1="45.50" y1="332.32" x2="50.50" y2="332.32" stroke="#000" stroke-width="1.05"/>
<line x1="366.50" y1="332.32" x2="371.50" y2="332.32" stroke="#000" stroke-width="1.05"/>
<line x1="45.50" y1="328.23" x2="50.50" y2="328.23" stroke="#000" stroke-width="1.05"/>
<line x1="366.50" y1="328.23" x2="371.50" y2="328.23" stroke="#000" stroke-width="1.05"/>
<line x1="45.50" y1="324.31" x2="50.50" y2="324.31" stroke="#000" stroke-width="1.05"/>
<line x1="366.50" y1="324.31" x2="371.50" y2="324.31" stroke="#000" stroke-width="1.05"/>
<line x1="45.50" y1="320.57" x2="50.50" y2="320.57" stroke="#000" stroke-width="1.05"/>
<line x1="366.50" y1="320.57" x2="371.50" y2="320.57" stroke="#000" stroke-width="1.05"/>
<line x1="51.80" y1="317.50" x2="51.80" y2="322.50" stroke="#000" stroke-width="1.05"/>
<line x1="51.80" y1="472.70" x2="51.80" y2="477.70" stroke="#000" stroke-width="1.05"/>
<line x1="77.90" y1="317.50" x2="77.90" y2="320.50" stroke="#000" stroke-width="1.05"/>
<line x1="77.90" y1="474.70" x2="77.90" y2="477.70" stroke="#000" stroke-width="1.05"/>
<line x1="104.00" y1="317.50" x2="104.00" y2="320.50" stroke="#000" stroke-width="1.05"/>
<line x1="104.00" y1="474.70" x2="104.00" y2="477.70" stroke="#000" stroke-width="1.05"/>
<line x1="130.10" y1="317.50" x2="130.10" y2="320.50" stroke="#000" stroke-width="1.05"/>
<line x1="130.10" y1="474.70" x2="130.10" y2="477.70" stroke="#000" stroke-width="1.05"/>
<line x1="156.20" y1="317.50" x2="156.20" y2="322.50" stroke="#000" stroke-width="1.05"/>
<line x1="156.20" y1="472.70" x2="156.20" y2="477.70" stroke="#000" stroke-width="1.05"/>
<line x1="182.30" y1="317.50" x2="182.30" y2="320.50" stroke="#000" stroke-width="1.05"/>
<line x1="182.30" y1="474.70" x2="182.30" y2="477.70" stroke="#000" stroke-width="1.05"/>
<line x1="208.40" y1="317.50" x2="208.40" y2="320.50" stroke="#000" stroke-width="1.05"/>
<line x1="208.40" y1="474.70" x2="208.40" y2="477.70" stroke="#000" stroke-width="1.05"/>
<line x1="234.50" y1="317.50" x2="234.50" y2="320.50" stroke="#000" stroke-width="1.05"/>
<line x1="234.50" y1="474.70" x2="234.50" y2="477.70" stroke="#000" stroke-width="1.05"/>
<line x1="260.60" y1="317.50" x2="260.60" y2="322.50" stroke="#000" stroke-width="1.05"/>
<line x1="260.60" y1="472.70" x2="260.60" y2="477.70" stroke="#000" stroke-width="1.05"/>
<line x1="286.70" y1="317.50" x2="286.70" y2="320.50" stroke="#000" stroke-width="1.05"/>
<line x1="286.70" y1="474.70" x2="286.70" y2="477.70" stroke="#000" stroke-width="1.05"/>
<line x1="312.80" y1="317.50" x2="312.80" y2="320.50" stroke="#000" stroke-width="1.05"/>
<line x1="312.80" y1="474.70" x2="312.80" y2="477.70" stroke="#000" stroke-width="1.05"/>
<line x1="338.90" y1="317.50" x2="338.90" y2="320.50" stroke="#000" stroke-width="1.05"/>
<line x1="338.90" y1="474.70" x2="338.90" y2="477.70" stroke="#000" stroke-width="1.05"/>
<line x1="365.00" y1="317.50" x2="365.00" y2="322.50" stroke="#000" stroke-width="1.05"/>
<line x1="365.00" y1="472.70" x2="365.00" y2="477.70" stroke="#000" stroke-width="1.05"/>
<rect x="45.5" y="17.5" width="326.0" height="300.0" fill="none" stroke="#000" stroke-width="1.3"/>
<rect x="45.5" y="317.5" width="326.0" height="160.2" fill="none" stroke="#000" stroke-width="1.35"/>
<text x="51.30" y="13.70" font-size="12.2" text-anchor="start" fill="#000">7000 GeV pp</text>
<text x="365.20" y="13.70" font-size="12" text-anchor="end" fill="#000">Jets</text>
<path d="M39.90,172.80 L39.90,180.60" stroke="#000" stroke-width="1.15" fill="none"/>
<path d="M40.20,173.00 C39.50,174.70 38.30,175.00 36.90,175.10" stroke="#000" stroke-width="1.0" fill="none"/>
<text x="42.10" y="293.00" font-size="12" text-anchor="end" fill="#000">0.2</text>
<text x="42.10" y="264.90" font-size="12" text-anchor="end" fill="#000">0.4</text>
<text x="42.10" y="236.80" font-size="12" text-anchor="end" fill="#000">0.6</text>
<text x="42.10" y="208.70" font-size="12" text-anchor="end" fill="#000">0.8</text>
<text x="42.10" y="40.10" font-size="12" text-anchor="end" fill="#000">2</text>
<text x="42.10" y="152.50" font-size="12" text-anchor="end" fill="#000">.2</text>
<path d="M29.60,144.70 L29.60,152.50" stroke="#000" stroke-width="1.15" fill="none"/>
<path d="M29.90,144.90 C29.20,146.60 28.00,146.90 26.60,147.00" stroke="#000" stroke-width="1.0" fill="none"/>
<text x="42.10" y="124.40" font-size="12" text-anchor="end" fill="#000">.4</text>
<path d="M29.60,116.60 L29.60,124.40" stroke="#000" stroke-width="1.15" fill="none"/>
<path d="M29.90,116.80 C29.20,118.50 28.00,118.80 26.60,118.90" stroke="#000" stroke-width="1.0" fill="none"/>
<text x="42.10" y="96.30" font-size="12" text-anchor="end" fill="#000">.6</text>
<path d="M29.60,88.50 L29.60,96.30" stroke="#000" stroke-width="1.15" fill="none"/>
<path d="M29.90,88.70 C29.20,90.40 28.00,90.70 26.60,90.80" stroke="#000" stroke-width="1.0" fill="none"/>
<text x="42.10" y="68.20" font-size="12" text-anchor="end" fill="#000">.8</text>
<path d="M29.60,60.40 L29.60,68.20" stroke="#000" stroke-width="1.15" fill="none"/>
<path d="M29.90,60.60 C29.20,62.30 28.00,62.60 26.60,62.70" stroke="#000" stroke-width="1.0" fill="none"/>
<text x="42.10" y="322.60" font-size="12" text-anchor="end" fill="#000" clip-path="url(#c0)">0</text>
<text x="38.80" y="340.61" font-size="12" text-anchor="end" fill="#000">2</text>
<text x="373.60" y="340.61" font-size="12" text-anchor="start" fill="#000">2</text>
<text x="38.80" y="462.59" font-size="12" text-anchor="end" fill="#000">0.5</text>
<text x="373.60" y="462.59" font-size="12" text-anchor="start" fill="#000">0.5</text>
<path d="M36.60,394.00 L36.60,401.80" stroke="#000" stroke-width="1.15" fill="none"/>
<path d="M36.90,394.20 C36.20,395.90 35.00,396.20 33.60,396.30" stroke="#000" stroke-width="1.0" fill="none"/>
<path d="M377.60,394.70 L377.60,402.50" stroke="#000" stroke-width="1.15" fill="none"/>
<path d="M377.90,394.90 C377.20,396.60 376.00,396.90 374.60,397.00" stroke="#000" stroke-width="1.0" fill="none"/>
<text x="51.80" y="488.80" font-size="12" text-anchor="middle" fill="#000">0</text>
<text x="156.20" y="488.80" font-size="12" text-anchor="middle" fill="#000">2</text>
<text x="260.60" y="488.80" font-size="12" text-anchor="middle" fill="#000">4</text>
<text x="365.00" y="488.80" font-size="12" text-anchor="middle" fill="#000">6</text>
<text x="352.70" y="503.60" font-size="12" text-anchor="start" fill="#000">|</text>
<text transform="translate(354.9,503.6) scale(0.9,1)" font-size="10.5" fill="#000">Δ</text>
<text x="362.20" y="503.60" font-size="10.5" text-anchor="start" fill="#000">y</text>
<text x="368.50" y="503.60" font-size="12" text-anchor="start" fill="#000">|</text>
<text transform="translate(15.9,81) rotate(-90)" font-size="12" fill="#000">Gap fraction</text>
<text transform="translate(18.6,428) rotate(-90)" font-size="9.2" fill="#000">Ratio to ATLAS</text>
<text transform="translate(380.4,128) rotate(-90)" font-size="9.5" fill="#707070">Rivet 4.1.0, ≥ 100k events</text>
<text transform="translate(382.2,314.5) rotate(-90)" font-size="9.5" fill="#707070">mcplots.cern.ch [arXiv:2401.10621]</text>
<text x="207.80" y="301.60" font-size="8" text-anchor="middle" fill="#aaaaaa">(ATLAS_2011_I917526)</text>
<text x="64.60" y="42.60" font-size="12" text-anchor="start" fill="#000">Gap fraction vs</text>
<text x="148.90" y="42.60" font-size="12" text-anchor="start" fill="#000">|</text>
<text transform="translate(150.9,42.6) scale(0.9,1)" font-size="10.5" fill="#000">Δ</text>
<text x="156.90" y="42.60" font-size="10.5" text-anchor="start" fill="#000">y</text>
<text x="163.10" y="42.60" font-size="12" text-anchor="start" fill="#000">|</text>
<text x="169.00" y="42.60" font-size="12" text-anchor="start" fill="#000">for 90&lt;#</text>
<text x="213.00" y="42.60" font-size="12" text-anchor="start" fill="#000">P</text>
<text x="220.70" y="46.70" font-size="8.8" text-anchor="start" fill="#000">T</text>
<line x1="213.3" y1="33.5" x2="226.0" y2="33.5" stroke="#000" stroke-width="1"/>
<text x="226.20" y="42.60" font-size="12" text-anchor="start" fill="#000">&lt;</text>
<path d="M237.00,34.80 L237.00,42.60" stroke="#000" stroke-width="1.15" fill="none"/>
<path d="M237.30,35.00 C236.60,36.70 235.40,37.00 234.00,37.10" stroke="#000" stroke-width="1.0" fill="none"/>
<text x="239.50" y="42.60" font-size="12" text-anchor="start" fill="#000">20, Fwd/Bwd Q</text>
<text x="321.70" y="48.90" font-size="8.8" text-anchor="start" fill="#000">0</text>
<text x="326.00" y="42.60" font-size="12" text-anchor="start" fill="#000">=#</text>
<text x="339.60" y="42.60" font-size="12" text-anchor="start" fill="#000">P</text>
<text x="346.60" y="46.70" font-size="8.8" text-anchor="start" fill="#000">T</text>
<line x1="339.3" y1="33.5" x2="352.1" y2="33.5" stroke="#000" stroke-width="1"/>
<text transform="translate(94.5,65.4) scale(1,1.06)" font-size="9.5" fill="#000">ATLAS</text>
<text transform="translate(94.5,78.6) scale(1,1.06)" font-size="9.5" fill="#000">Herwig++ 2.7.1 default</text>
<text transform="translate(94.5,91.4) scale(1,1.06)" font-size="9.5" fill="#000">Herwig 7.2.1 default</text>
<text transform="translate(94.5,104.0) scale(1,1.06)" font-size="9.5" fill="#000">Herwig 7.2.1 softTune</text>
<rect x="73.60" y="59.30" width="5.8" height="5.8" fill="#000"/>
<line x1="64" y1="75.3" x2="88" y2="75.3" stroke="#bf7e48" stroke-width="1" stroke-dasharray="2,2"/>
<circle cx="76.5" cy="75.3" r="2.5" fill="none" stroke="#b86a2c" stroke-width="1.1"/>
<line x1="64" y1="88.3" x2="88" y2="88.3" stroke="#6cb24c" stroke-width="1" stroke-dasharray="2,2"/>
<rect x="73.8" y="85.6" width="5.4" height="5.4" fill="none" stroke="#58a63a" stroke-width="1.1"/>
<line x1="64" y1="101.0" x2="88.7" y2="101.0" stroke="#4a8a9a" stroke-width="1.2"/>
<path d="M73.50,98.50 L79.50,98.50 L76.50,103.60 Z" fill="#1a5565"/>
</svg></body></html>
